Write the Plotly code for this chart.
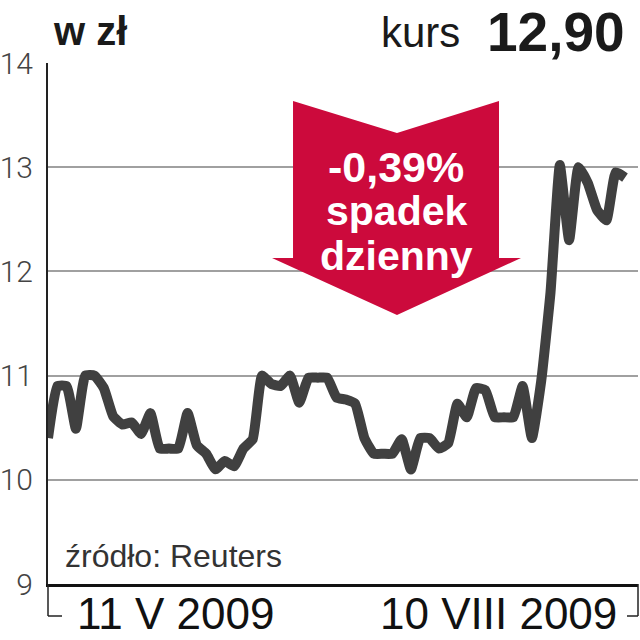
import plotly.graph_objects as go

# daily closing price, zl
day = list(range(63))
price = [10.40, 10.90, 10.90, 10.49, 11.00, 11.00, 10.88, 10.61, 10.53, 10.55,
         10.44, 10.64, 10.30, 10.30, 10.30, 10.64, 10.33, 10.25, 10.10, 10.18,
         10.13, 10.30, 10.39, 11.00, 10.92, 10.90, 11.00, 10.74, 10.98, 10.98,
         10.98, 10.79, 10.77, 10.73, 10.40, 10.25, 10.25, 10.25, 10.39, 10.10,
         10.40, 10.40, 10.30, 10.35, 10.73, 10.60, 10.88, 10.86, 10.60, 10.60,
         10.60, 10.90, 10.40, 10.95, 11.80, 13.02, 12.30, 13.00, 12.85, 12.59,
         12.49, 12.95, 12.90]
y_ticks = [9, 10, 11, 12, 13, 14]
date_labels = ["11 V 2009", "10 VIII 2009"]
change_txt = ["-0,39%", "spadek", "dzienny"]
last_txt = "12,90"

W = H = 640
L, R, T, B = 48, 638, 63, 584
RED = "#CC0A3C"
LINE = "#404040"
SANS = "Liberation Sans, Arial, sans-serif"


def px(x):
    return (x - L) / (R - L)


def py(y):
    return (B - y) / (B - T)


fig = go.Figure(go.Scatter(
    x=day, y=price, mode="lines",
    line=dict(color=LINE, width=10, shape="spline", smoothing=0.4),
    hoverinfo="skip",
))

# red arrow with the daily change
arrow = [(293, 101), (397, 133), (499, 101), (499, 258), (521, 258),
         (397, 315), (272, 258), (293, 258)]
path = "M " + " L ".join(f"{px(a):.4f},{py(b):.4f}" for a, b in arrow) + " Z"
shapes = [dict(type="path", path=path, xref="paper", yref="paper",
               fillcolor=RED, line=dict(width=0), layer="above")]

# brackets under the x axis
for xs, ys in [((48, 48, 62), (584, 616, 616)), ((638, 638, 627), (584, 616, 616))]:
    for i in range(2):
        shapes.append(dict(type="line", xref="paper", yref="paper",
                           x0=px(xs[i]), y0=py(ys[i]), x1=px(xs[i + 1]), y1=py(ys[i + 1]),
                           line=dict(color="#222", width=1.5)))

ann = []
for txt, yy, fs in zip(change_txt, [167, 211, 256], [43, 41, 41]):
    ann.append(dict(text=txt, x=px(396), y=py(yy), xref="paper", yref="paper",
                    xanchor="center", yanchor="middle", showarrow=False,
                    font=dict(family=SANS, size=fs, color="white", weight="bold")))

ann += [
    dict(text="w zł", x=px(51), y=py(31), xanchor="left", yanchor="middle",
         font=dict(family=SANS, size=40, color="#1a1a1a", weight="bold")),
    dict(text="kurs", x=px(462), y=py(33), xanchor="right", yanchor="middle",
         font=dict(family=SANS, size=42, color="#1a1a1a")),
    dict(text=last_txt, x=px(627), y=py(32), xanchor="right", yanchor="middle",
         font=dict(family=SANS, size=55, color="#1a1a1a", weight="bold")),
    dict(text="źródło: Reuters", x=px(63), y=py(556), xanchor="left", yanchor="middle",
         font=dict(family=SANS, size=32, color="#333")),
    dict(text=date_labels[0], x=px(75), y=py(613), xanchor="left", yanchor="middle",
         font=dict(family=SANS, size=44, color="#111")),
    dict(text=date_labels[1], x=px(619), y=py(613), xanchor="right", yanchor="middle",
         font=dict(family=SANS, size=44, color="#111")),
]
for a in ann[len(change_txt):]:
    a.update(xref="paper", yref="paper", showarrow=False)

fig.update_layout(
    width=W, height=H,
    margin=dict(l=L, r=W - R, t=T, b=H - B),
    paper_bgcolor="white", plot_bgcolor="white",
    showlegend=False,
    shapes=shapes, annotations=ann,
)
fig.update_xaxes(range=[0, 63.4], showgrid=False, zeroline=False,
                 showticklabels=False, ticks="", automargin=False,
                 showline=True, linecolor="#111", linewidth=3)
fig.update_yaxes(range=[9, 14], tickvals=y_ticks, ticks="", automargin=False,
                 showgrid=True, gridcolor="#a0a0a0", gridwidth=1.5,
                 zeroline=False, showline=True, linecolor="#222", linewidth=2,
                 ticklabelstandoff=7,
                 tickfont=dict(family="Roboto, Liberation Sans", size=30,
                               color="#444", weight=300))

# drop the browser's default page margin so the figure sits at 0,0
fig.write_html("out.html", config={"displayModeBar": False},
               post_script="document.body.style.margin='0';")
